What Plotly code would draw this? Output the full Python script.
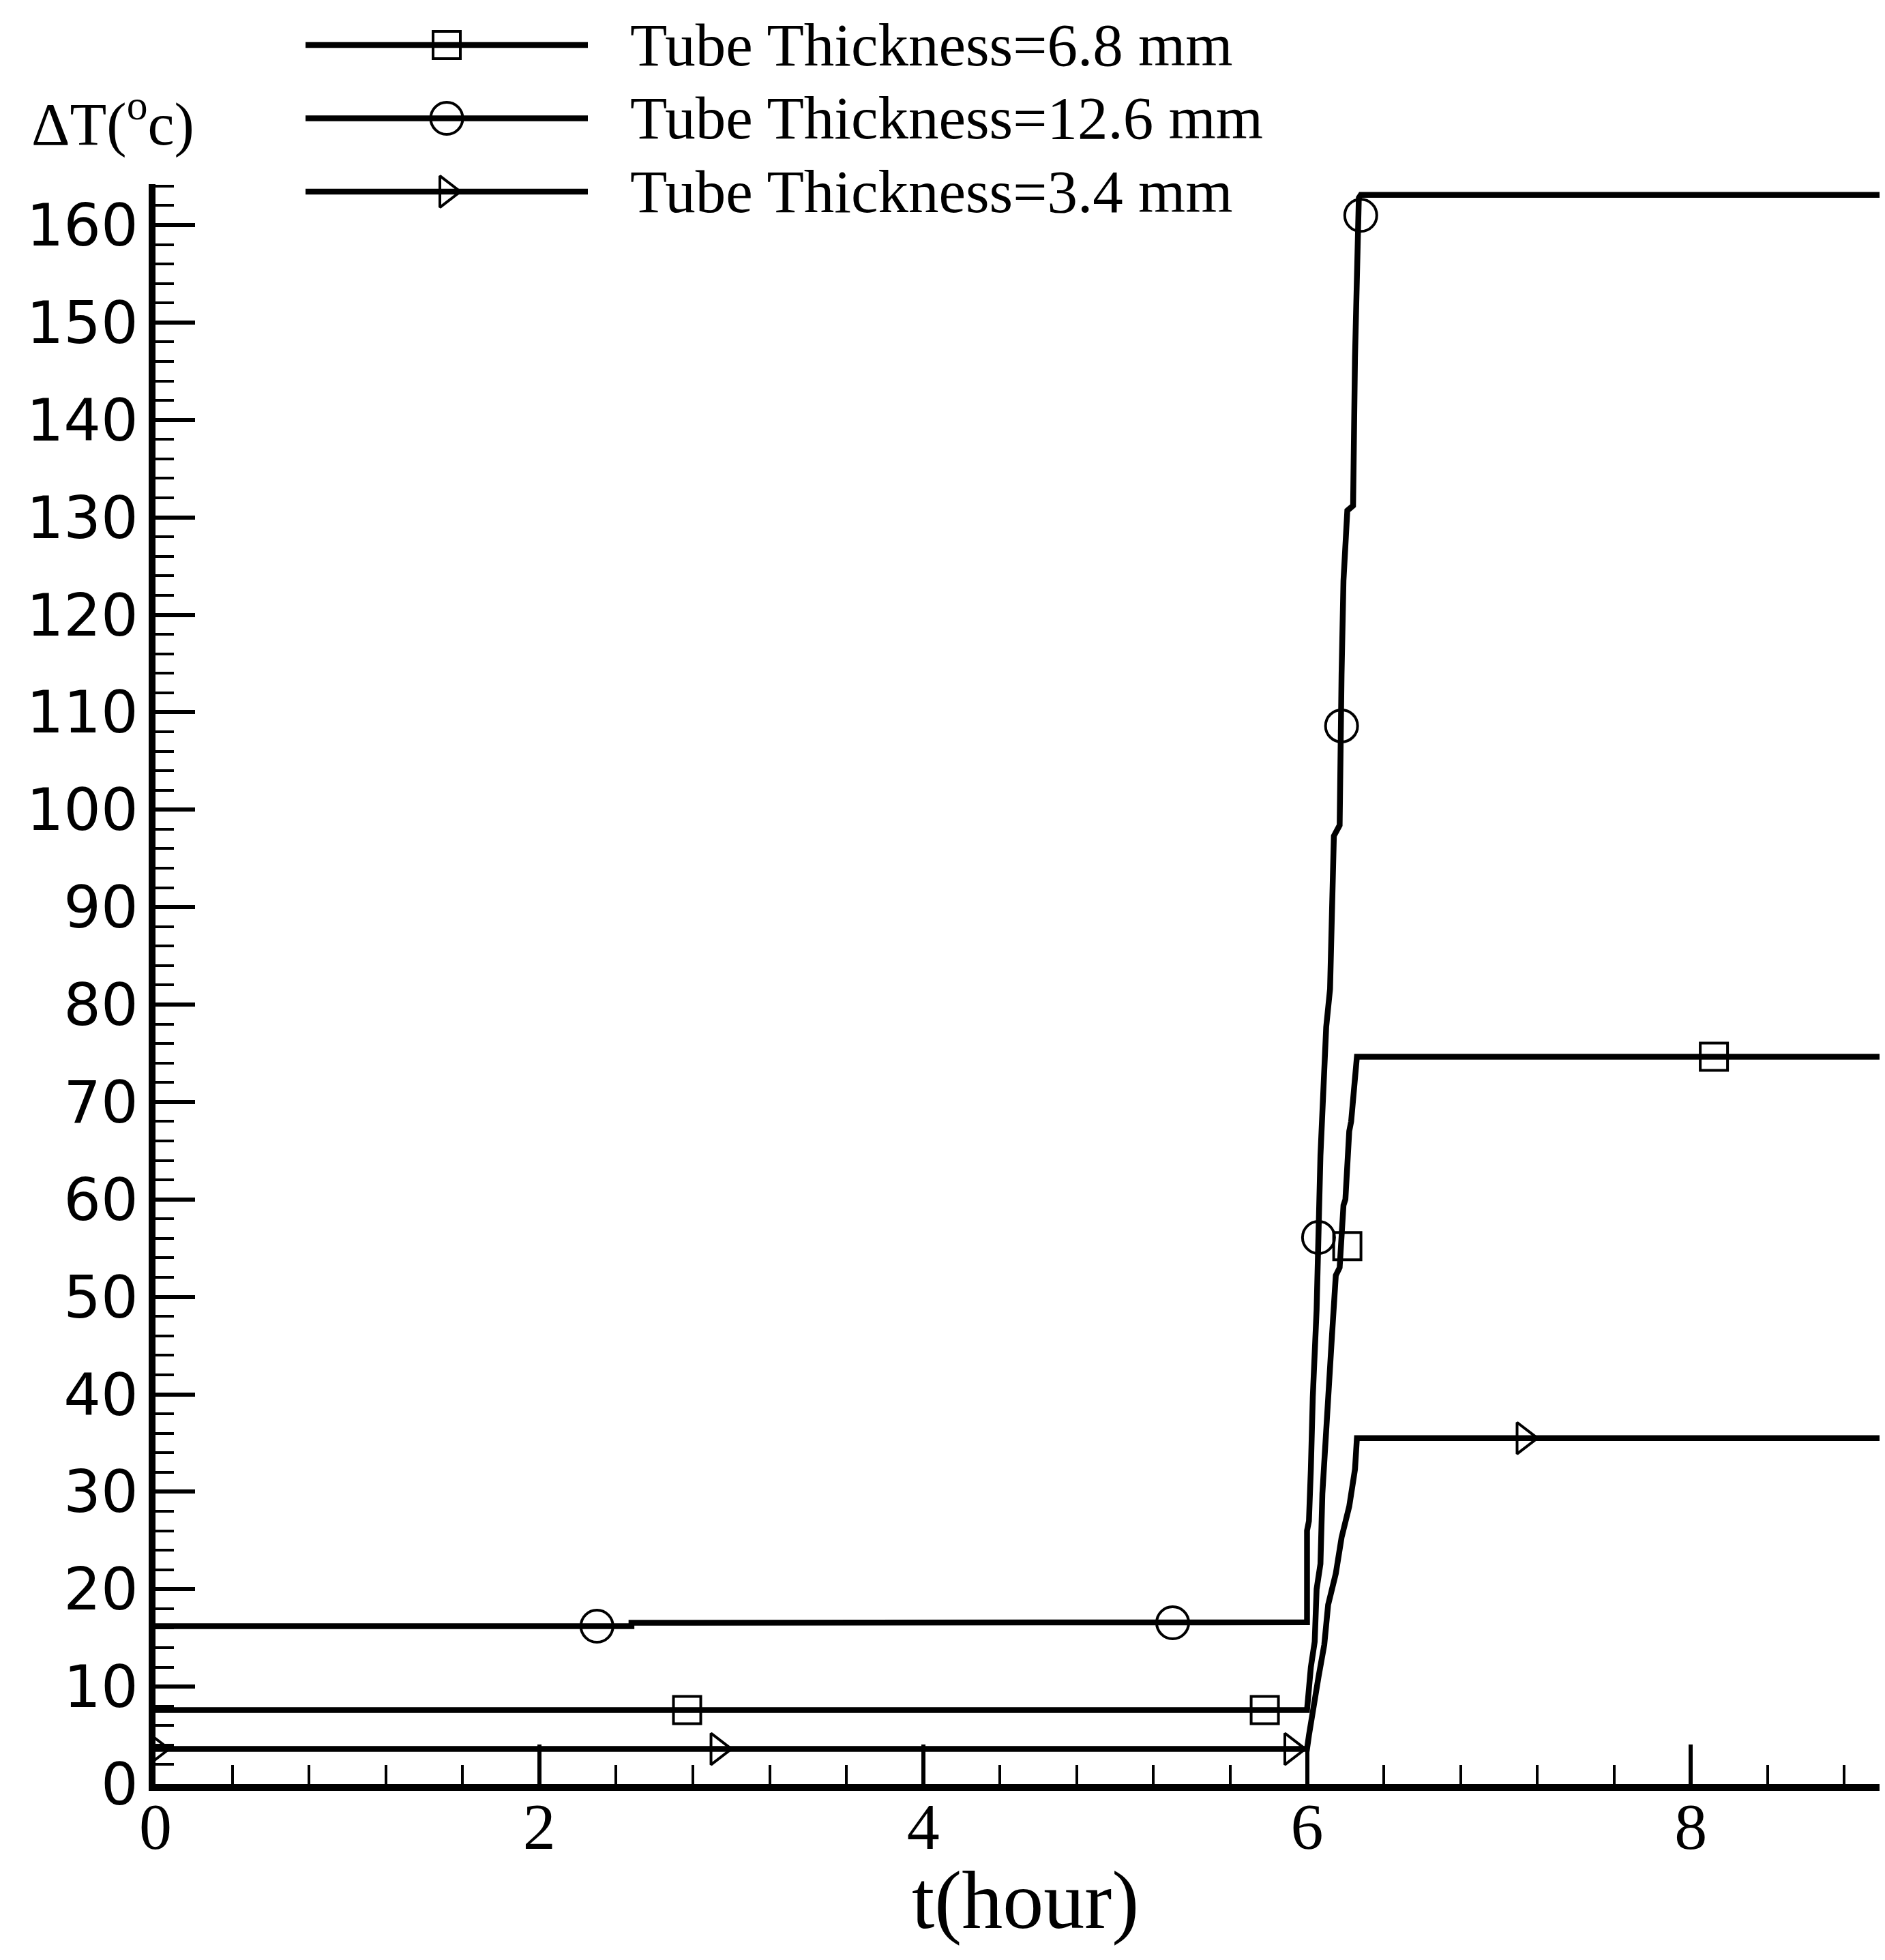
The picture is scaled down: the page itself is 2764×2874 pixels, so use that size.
import plotly.graph_objects as go

W, H = 2764, 2874
OFF = 8  # page body margin offset (px) in the screenshot

# ---------------- data ----------------
series_names = ["Tube Thickness=6.8 mm", "Tube Thickness=12.6 mm", "Tube Thickness=3.4 mm"]
series_symbols = ["square-open", "circle-open", "triangle-right-open"]

# Tube thickness 6.8 mm
t_68 = [0, 6.00, 6.02, 6.04, 6.05, 6.07, 6.08, 6.10, 6.12, 6.13, 6.15, 6.17, 6.19, 6.20, 6.22, 6.23, 6.26, 9.04]
dT_68 = [7.6, 7.6, 12.0, 14.6, 20.0, 22.6, 29.8, 37.4, 44.8, 46.0, 52.2, 53.0, 59.4, 60.0, 67.0, 68.0, 74.65, 74.65]
mk_t_68 = [2.77, 5.78, 6.21, 8.12]
mk_dT_68 = [7.6, 7.6, 55.2, 74.65]

# Tube thickness 12.6 mm
t_126 = [0, 2.48, 2.48, 6.00, 6.00, 6.01, 6.02, 6.03, 6.05, 6.07, 6.10, 6.12, 6.14, 6.17, 6.18, 6.19,
         6.21, 6.24, 6.25, 6.27, 6.28, 9.04]
dT_126 = [16.2, 16.2, 16.55, 16.6, 26.0, 27.0, 32.3, 39.7, 48.7, 64.5, 77.7, 81.6, 97.3, 98.4, 113.9, 123.5,
          130.7, 131.2, 146.4, 162.8, 163.1, 163.1]
mk_t_126 = [2.30, 5.30, 6.06, 6.18, 6.28]
mk_dT_126 = [16.2, 16.55, 56.1, 108.6, 161.0]

# Tube thickness 3.4 mm
t_34 = [0, 6.00, 6.01, 6.03, 6.06, 6.09, 6.11, 6.15, 6.18, 6.22, 6.25, 6.26, 9.04]
dT_34 = [3.6, 3.6, 5.0, 7.7, 11.0, 14.3, 18.4, 21.6, 25.3, 28.5, 32.3, 35.5, 35.5]
mk_t_34 = [0.0, 2.93, 5.92, 7.13]
mk_dT_34 = [3.6, 3.6, 3.6, 35.5]

x_range = [0, 9.04]
y_range = [0, 164.2]
x_title = "t(hour)"
y_title = "ΔT(<sup>o</sup>c)"

lines = [(t_68, dT_68), (t_126, dT_126), (t_34, dT_34)]
marks = [(mk_t_68, mk_dT_68), (mk_t_126, mk_dT_126), (mk_t_34, mk_dT_34)]
marker_sizes = [40, 47, 40]

SERIF = "Liberation Serif"
SANS = "DejaVu Sans"
LW = 8.5
MLW = 4

fig = go.Figure()

for (tx, ty), (mx, my), sym, ms in zip(lines, marks, series_symbols, marker_sizes):
    fig.add_trace(go.Scatter(x=tx, y=ty, mode="lines",
                             line=dict(color="black", width=LW),
                             showlegend=False, hoverinfo="skip"))
    fig.add_trace(go.Scatter(x=mx, y=my, mode="markers",
                             marker=dict(symbol=sym, size=ms, color="black",
                                         line=dict(color="black", width=MLW)),
                             showlegend=False, hoverinfo="skip"))

# ---------------- hand-made legend key (overlay axes) ----------------
for i, (sym, ms) in enumerate(zip(series_symbols, marker_sizes)):
    fig.add_trace(go.Scatter(x=[0, 1], y=[i, i], mode="lines",
                             line=dict(color="black", width=LW),
                             xaxis="x2", yaxis="y2", showlegend=False, hoverinfo="skip"))
    fig.add_trace(go.Scatter(x=[0.5], y=[i], mode="markers",
                             marker=dict(symbol=sym, size=ms, color="black",
                                         line=dict(color="black", width=MLW)),
                             xaxis="x2", yaxis="y2", showlegend=False, hoverinfo="skip"))

annotations = []
for i, name in enumerate(series_names):
    annotations.append(dict(text=name, xref="paper", yref="y2", x=(922 - OFF) / W, y=i,
                            xanchor="left", yanchor="middle", showarrow=False,
                            font=dict(family=SERIF, size=89, color="black")))

annotations.append(dict(text=y_title, xref="paper", yref="paper", x=(44 - OFF) / W,
                        y=1 - (176 - OFF) / H,
                        xanchor="left", yanchor="middle", showarrow=False,
                        font=dict(family=SERIF, size=88, color="black")))
annotations.append(dict(text=x_title, xref="paper", yref="paper", x=(1503 - OFF) / W,
                        y=1 - (2786 - OFF) / H,
                        xanchor="center", yanchor="middle", showarrow=False,
                        font=dict(family=SERIF, size=120, color="black")))

row_h = 107.5
y2_top = 66 - OFF - row_h / 2
y2_bot = y2_top + 3 * row_h

x0_px = 228 - OFF
y0_px = 2616 - OFF
ytop_px = 270 - OFF

fig.update_layout(
    width=W, height=H, autosize=False,
    margin=dict(l=0, r=0, t=0, b=0, pad=0, autoexpand=False),
    paper_bgcolor="white", plot_bgcolor="rgba(0,0,0,0)",
    showlegend=False,
    xaxis=dict(domain=[x0_px / W, 1], range=x_range, anchor="y", automargin=False,
               showline=True, linecolor="black", linewidth=10,
               ticks="inside", ticklen=58, tickwidth=6, tickcolor="black",
               tick0=0, dtick=2, showgrid=False, zeroline=False,
               tickfont=dict(family=SERIF, size=96, color="black"),
               ticklabelstandoff=-30,
               minor=dict(dtick=0.4, tick0=0, ticks="inside", ticklen=28, tickwidth=4,
                          tickcolor="black", showgrid=False)),
    yaxis=dict(domain=[(H - y0_px) / H, (H - ytop_px) / H], range=y_range, anchor="x",
               automargin=False,
               showline=True, linecolor="black", linewidth=10,
               ticks="inside", ticklen=58, tickwidth=6, tickcolor="black",
               tick0=0, dtick=10, showgrid=False, zeroline=False,
               tickfont=dict(family=SANS, size=86, color="black"),
               ticklabelstandoff=-2,
               minor=dict(dtick=2, tick0=0, ticks="inside", ticklen=27, tickwidth=4,
                          tickcolor="black", showgrid=False)),
    xaxis2=dict(domain=[(448 - OFF) / W, (862 - OFF) / W], range=[0, 1], anchor="y2",
                visible=False, automargin=False),
    yaxis2=dict(domain=[1 - y2_bot / H, 1 - y2_top / H], range=[2.5, -0.5], anchor="x2",
                visible=False, automargin=False),
    annotations=annotations,
)

fig.write_html("out.html")
